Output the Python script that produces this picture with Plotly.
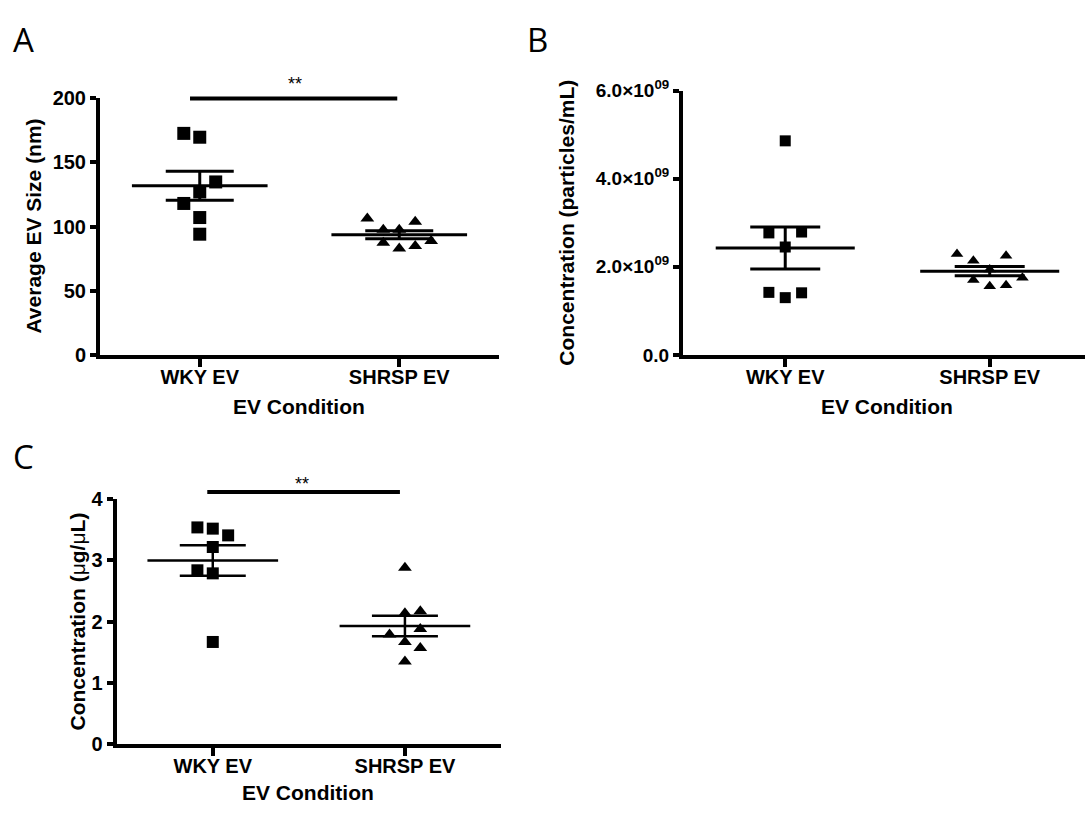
import numpy as np
import plotly.graph_objects as go

W, H = 1085, 814

categories = ["WKY EV", "SHRSP EV"]

# Panel A: Average EV size (nm)
a_wky = [172.7, 169.7, 134.8, 127.0, 118.0, 107.0, 94.0]
a_wky_col = [-1, 0, 1, 0, -1, 0, 0]
a_shrsp = [106.3, 97.5, 97.5, 103.8, 87.4, 82.8, 84.8, 88.6]
a_shrsp_col = [-2, -1, 0, 1, -1, 0, 1, 2]
a_ticks = [0, 50, 100, 150, 200]

# Panel B: particle concentration (particles/mL)
b_wky = [4.86e9, 2.77e9, 2.79e9, 2.45e9, 1.42e9, 1.30e9, 1.41e9]
b_wky_col = [0, -1, 1, 0, -1, 0, 1]
b_shrsp = [2.29e9, 2.14e9, 2.25e9, 1.94e9, 1.70e9, 1.56e9, 1.58e9, 1.75e9]
b_shrsp_col = [-2, -1, 1, 0, -1, 0, 1, 2]
b_ticks = [0, 2e9, 4e9, 6e9]
b_ticktext = ["0.0", "2.0×10<sup>09</sup>", "4.0×10<sup>09</sup>", "6.0×10<sup>09</sup>"]

# Panel C: protein concentration (ug/uL)
c_wky = [3.54, 3.52, 3.41, 3.22, 2.84, 2.79, 1.67]
c_wky_col = [-1, 0, 1, 0, -1, 0, 0]
c_shrsp = [2.88, 2.14, 2.17, 1.88, 1.79, 1.67, 1.57, 1.35]
c_shrsp_col = [0, 0, 1, 1, -1, 0, 1, 0]
c_ticks = [0, 1, 2, 3, 4]

COL_STEP = 0.08
MEAN_HALF = 0.34
FONT = "Liberation Sans, Arial, sans-serif"


def px(x):
    return x / W


def py(y):
    return 1 - y / H


fig = go.Figure()


def add_group(xa, ya, pos, vals, cols, symbol, msize, lw, capw):
    vals = np.asarray(vals, dtype=float)
    xs = [pos + c * COL_STEP for c in cols]
    fig.add_trace(go.Scatter(
        x=xs, y=vals, mode="markers", xaxis=xa, yaxis=ya,
        marker=dict(symbol=symbol, size=msize, color="black", line=dict(width=0)),
        showlegend=False, hoverinfo="skip", cliponaxis=False))
    mean = vals.mean()
    sem = vals.std(ddof=1) / np.sqrt(len(vals))
    fig.add_trace(go.Scatter(
        x=[pos - MEAN_HALF, pos + MEAN_HALF], y=[mean, mean], mode="lines",
        xaxis=xa, yaxis=ya, line=dict(color="black", width=lw),
        showlegend=False, hoverinfo="skip"))
    fig.add_trace(go.Scatter(
        x=[pos], y=[mean], mode="markers", xaxis=xa, yaxis=ya,
        marker=dict(size=1, color="rgba(0,0,0,0)"),
        error_y=dict(type="data", array=[sem], symmetric=True, color="black",
                     thickness=lw, width=capw),
        showlegend=False, hoverinfo="skip"))


add_group("x", "y", 0, a_wky, a_wky_col, "square", 13, 3, 34)
add_group("x", "y", 1, a_shrsp, a_shrsp_col, "triangle-up", 12, 3, 34)
add_group("x2", "y2", 0, b_wky, b_wky_col, "square", 11, 3, 35)
add_group("x2", "y2", 1, b_shrsp, b_shrsp_col, "triangle-up", 11, 3, 35)
add_group("x3", "y3", 0, c_wky, c_wky_col, "square", 12, 2.5, 33)
add_group("x3", "y3", 1, c_shrsp, c_shrsp_col, "triangle-up", 12, 2.5, 33)

tickfont = dict(family=FONT, size=20, color="black", weight="bold")

common_x = dict(showgrid=False, zeroline=False, showline=True, linecolor="black",
                linewidth=4, ticks="outside", ticklen=8, tickwidth=3.5,
                tickcolor="black", tickvals=[0, 1], ticktext=categories,
                tickfont=tickfont, fixedrange=True, ticklabelstandoff=-7)
common_y = dict(showgrid=False, zeroline=False, showline=True, linecolor="black",
                linewidth=4, ticks="outside", ticklen=6, tickwidth=3.5,
                tickcolor="black", tickfont=tickfont, fixedrange=True)

fig.update_layout(
    width=W, height=H, margin=dict(l=0, r=0, t=0, b=0),
    paper_bgcolor="white", plot_bgcolor="white", showlegend=False,
    xaxis=dict(common_x, domain=[px(100), px(499)], range=[-0.5, 1.5], anchor="y"),
    yaxis=dict(common_y, domain=[py(352), py(88)], range=[0, 200],
               tickvals=a_ticks, anchor="x"),
    xaxis2=dict(common_x, domain=[px(683), 1.0], range=[-0.5, 1.466], anchor="y2"),
    yaxis2=dict(common_y, domain=[py(352.3), py(80)], range=[0, 6e9],
                tickvals=b_ticks, ticktext=b_ticktext, anchor="x2",
                tickfont=dict(tickfont, size=19)),
    xaxis3=dict(common_x, domain=[px(116.7), px(501)], range=[-0.5, 1.5], anchor="y3"),
    yaxis3=dict(common_y, domain=[py(753.5), py(501)], range=[0, 4],
                tickvals=c_ticks, anchor="x3"),
)

# significance bars
fig.add_shape(type="line", xref="x domain", yref="y domain",
              x0=0.2256, x1=0.745, y0=1.0, y1=1.0,
              line=dict(color="black", width=4))
fig.add_shape(type="line", xref="x3 domain", yref="y3 domain",
              x0=0.2357, x1=0.737, y0=1.03, y1=1.03,
              line=dict(color="black", width=4))

C = dict(xanchor="center", yanchor="middle", showarrow=False)
ann = []
ann.append(dict(C, text="**", xref="x domain", yref="paper", x=0.4875, y=py(73),
                font=dict(family=FONT, size=18, color="black")))
ann.append(dict(C, text="**", xref="x3 domain", yref="paper", x=0.4815, y=py(485),
                font=dict(family=FONT, size=18, color="black")))

titlefont = dict(family=FONT, size=21, color="black", weight="bold")
# axis titles
ann.append(dict(C, text="Average EV Size (nm)", x=px(34), y=py(220), xref="paper", yref="paper",
                textangle=-90, font=titlefont))
ann.append(dict(C, text="EV Condition", x=px(299), y=py(405), xref="paper", yref="paper",
                font=titlefont))
ann.append(dict(C, text="Concentration (particles/mL)", x=px(567), y=py(216), xref="paper",
                yref="paper", textangle=-90, font=titlefont))
ann.append(dict(C, text="EV Condition", x=px(887), y=py(405), xref="paper", yref="paper",
                font=titlefont))
ann.append(dict(C, text="Concentration (<span style='font-weight:normal'>μ</span>g/"
                        "<span style='font-weight:normal'>μ</span>L)",
                x=px(78), y=py(627), xref="paper", yref="paper",
                textangle=-90, font=dict(titlefont, size=21)))
ann.append(dict(C, text="EV Condition", x=px(308), y=py(803), xref="paper", yref="paper",
                font=titlefont))

# panel letters
letterfont = dict(family="Open Sans, sans-serif", size=33, color="black")
for t, x, y in [("A", 23, 27), ("B", 537, 27), ("C", 23, 457)]:
    ann.append(dict(C, text=t, x=px(x), y=py(y), xref="paper", yref="paper",
                    font=letterfont))

fig.update_layout(annotations=ann)

post = (
    "document.documentElement.style.margin='0px';"
    "document.documentElement.style.padding='0px';"
    "document.documentElement.style.overflow='hidden';"
    "document.body.style.margin='0px';"
    "document.body.style.padding='0px';"
    "document.body.style.overflow='hidden';"
    "var gd=document.getElementById('{plot_id}');"
    "gd.style.position='absolute';gd.style.top='0px';gd.style.left='0px';"
)
fig.write_html("out.html", config={"displayModeBar": False}, post_script=post)
